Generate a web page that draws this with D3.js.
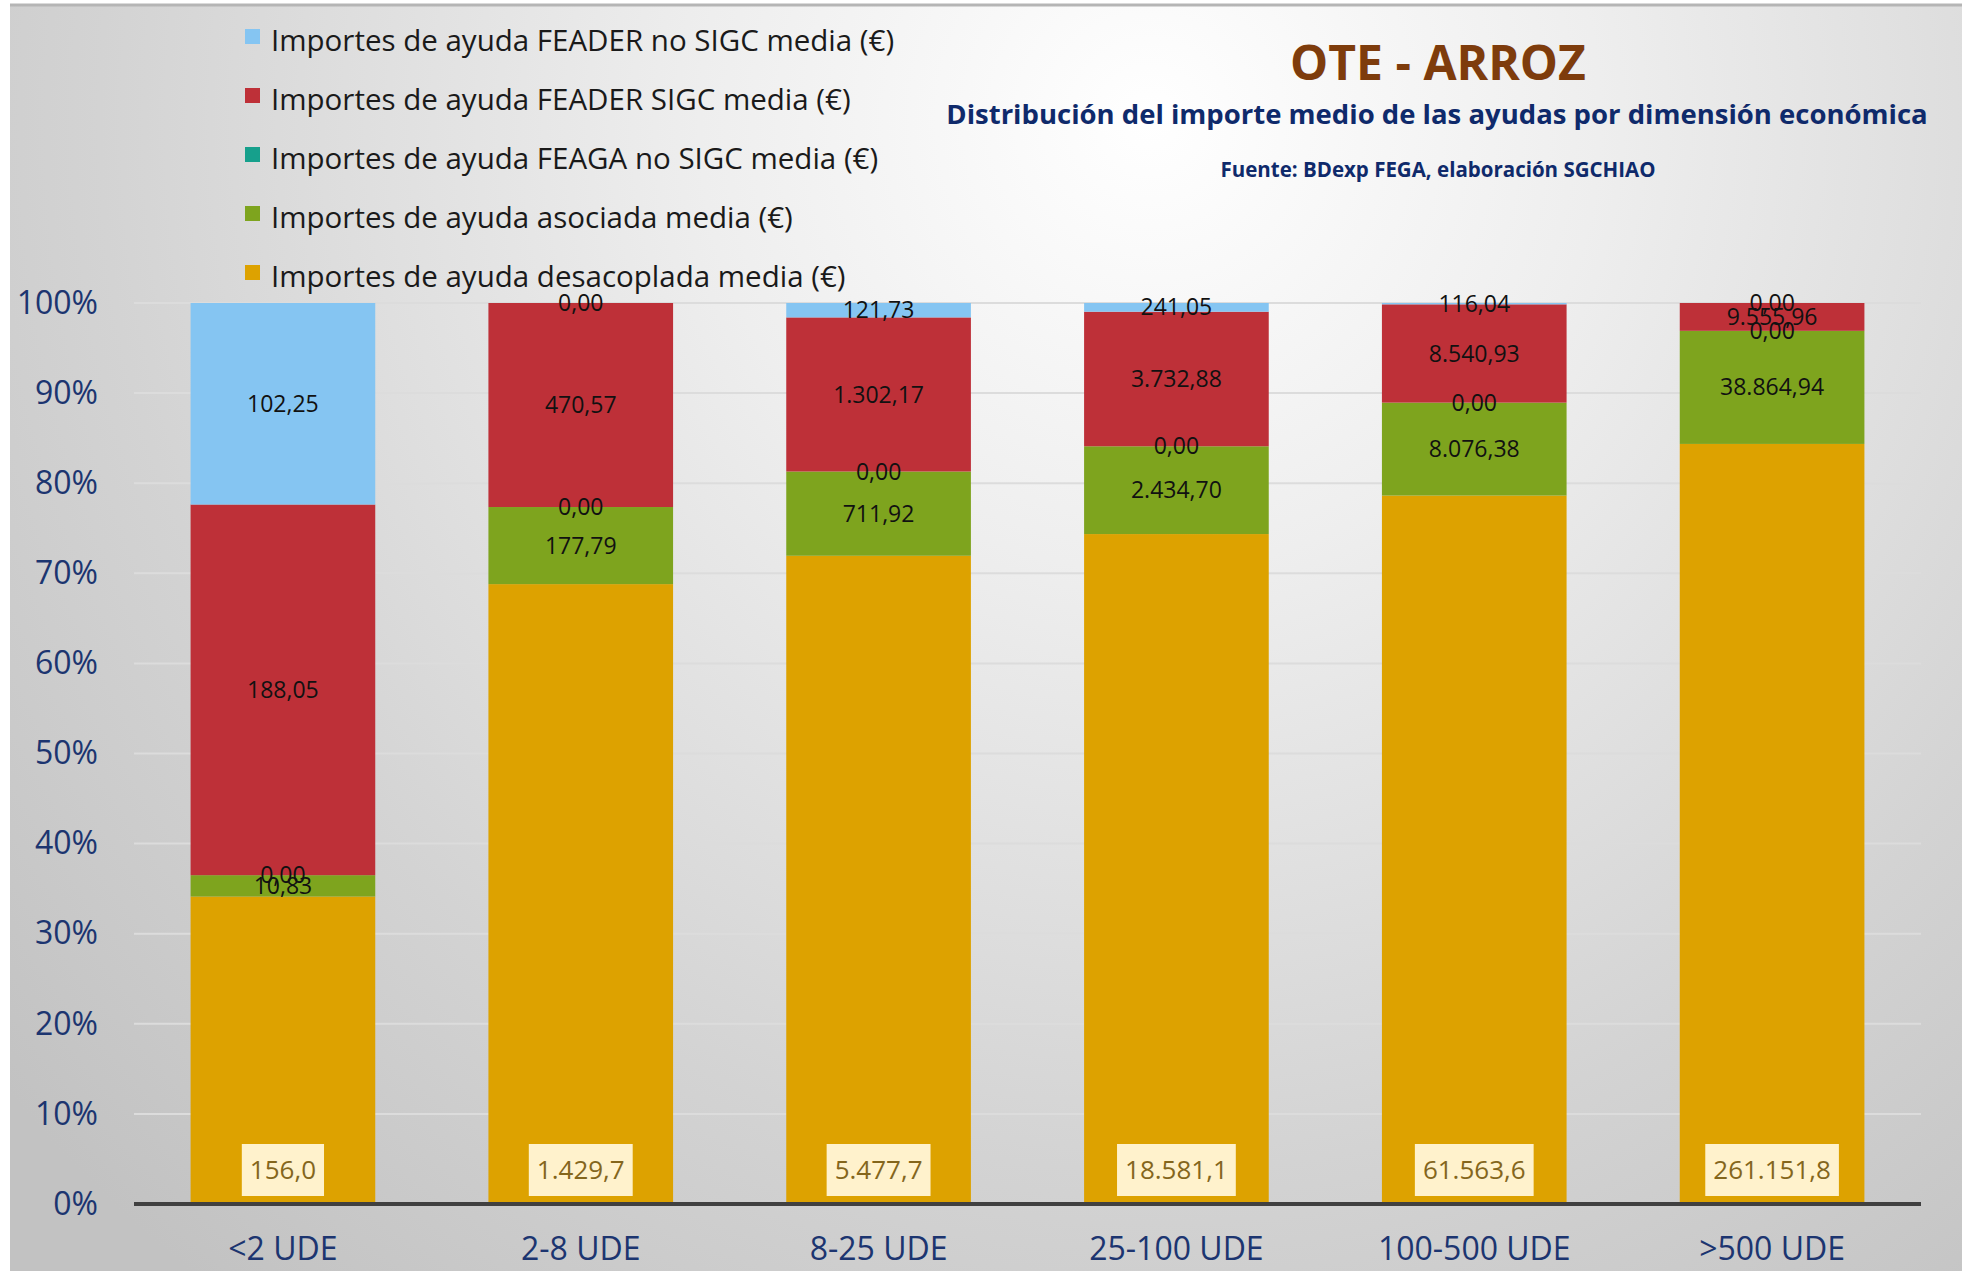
<!DOCTYPE html>
<html lang="es">
<head>
  <meta charset="UTF-8">
  <title>OTE - ARROZ</title>
  <script src="https://d3js.org/d3.v7.min.js"></script>
  <style>
    body { margin: 0; background: #fff; }
    svg text { font-family: "Open Sans", "Noto Sans", sans-serif; }
  </style>
</head>
<body>
<script>
// datos
var categories = ["<2 UDE", "2-8 UDE", "8-25 UDE", "25-100 UDE", "100-500 UDE", ">500 UDE"];
var desacoplada = [156.0, 1429.7, 5477.7, 18581.1, 61563.6, 261151.8];
var asociada = [10.83, 177.79, 711.92, 2434.70, 8076.38, 38864.94];
var feagaNoSigc = [0, 0, 0, 0, 0, 0];
var feaderSigc = [188.05, 470.57, 1302.17, 3732.88, 8540.93, 9555.96];
var feaderNoSigc = [102.25, 0, 121.73, 241.05, 116.04, 0];
var yTicks = [0, 0.1, 0.2, 0.3, 0.4, 0.5, 0.6, 0.7, 0.8, 0.9, 1];

var series = [
  {key: "desacoplada", name: "Importes de ayuda desacoplada media (€)", values: desacoplada, color: "#dda200"},
  {key: "asociada", name: "Importes de ayuda asociada media (€)", values: asociada, color: "#7ea41e"},
  {key: "feagaNoSigc", name: "Importes de ayuda FEAGA no SIGC media (€)", values: feagaNoSigc, color: "#16a08c"},
  {key: "feaderSigc", name: "Importes de ayuda FEADER SIGC media (€)", values: feaderSigc, color: "#be3038"},
  {key: "feaderNoSigc", name: "Importes de ayuda FEADER no SIGC media (€)", values: feaderNoSigc, color: "#85c5f2"}
];

var es = d3.formatLocale({decimal: ",", thousands: ".", grouping: [3], currency: ["", "€"]});
var fmt2 = es.format(",.2f"), fmt1 = es.format(",.1f");

var W = 1962, H = 1271;
var margin = {top: 303, right: 41, bottom: 67, left: 134};

var svg = d3.select("body").append("svg").attr("width", W).attr("height", H);

// fondo degradado
var defs = svg.append("defs");
var grad = defs.append("radialGradient").attr("id", "bg")
    .attr("gradientUnits", "userSpaceOnUse")
    .attr("cx", 1150).attr("cy", 120).attr("r", 1500);
grad.append("stop").attr("offset", 0).attr("stop-color", "#ffffff");
grad.append("stop").attr("offset", 0.3).attr("stop-color", "#eeeeee");
grad.append("stop").attr("offset", 0.7).attr("stop-color", "#d3d3d3");
grad.append("stop").attr("offset", 1).attr("stop-color", "#c2c2c2");
svg.append("rect").attr("x", 10).attr("y", 5).attr("width", W - 10).attr("height", H - 5)
    .attr("fill", "url(#bg)");
svg.append("line").attr("x1", 10).attr("x2", W).attr("y1", 5).attr("y2", 5)
    .attr("stroke", "#b5b5b5").attr("stroke-width", 3);

var x = d3.scaleBand().domain(categories)
    .range([margin.left, W - margin.right]).paddingInner(0.38).paddingOuter(0.19);
var y = d3.scaleLinear().domain([0, 1]).range([H - margin.bottom, margin.top]);

// rejilla
svg.append("g").selectAll("line").data(yTicks.slice(1)).join("line")
    .attr("x1", margin.left).attr("x2", W - margin.right)
    .attr("y1", d => y(d)).attr("y2", d => y(d))
    .attr("stroke", "#dcdcdc").attr("stroke-width", 2);

// porcentajes apilados
var rows = categories.map(function(c, i) {
  var r = {cat: c};
  series.forEach(s => r[s.key] = s.values[i]);
  return r;
});
var stack = d3.stack().keys(series.map(s => s.key)).offset(d3.stackOffsetExpand);
var stacked = stack(rows);

var bars = svg.append("g");
stacked.forEach(function(layer, si) {
  bars.append("g").attr("fill", series[si].color)
    .selectAll("rect").data(layer).join("rect")
    .attr("x", d => x(d.data.cat))
    .attr("y", d => y(d[1]))
    .attr("width", x.bandwidth())
    .attr("height", d => y(d[0]) - y(d[1]));
});

// eje x
svg.append("g").attr("transform", "translate(0," + y(0) + ")")
  .call(d3.axisBottom(x).tickSize(0).tickPadding(33))
  .call(g => g.select(".domain").attr("stroke", "#404040").attr("stroke-width", 4)
      .attr("d", "M" + margin.left + ",0H" + (W - margin.right)))
  .call(g => g.selectAll("text").attr("font-size", 32).attr("fill", "#1c3570")
      .attr("font-family", "'Open Sans', sans-serif"));

// eje y
svg.append("g").attr("transform", "translate(98,0)")
  .call(d3.axisLeft(y).tickValues(yTicks).tickFormat(d3.format(".0%")).tickSize(0).tickPadding(0))
  .call(g => g.select(".domain").remove())
  .call(g => g.selectAll("text").attr("font-size", 32).attr("fill", "#1c3570")
      .attr("font-family", "'Open Sans', sans-serif"));

// etiquetas de los segmentos
var labels = svg.append("g").attr("text-anchor", "middle").attr("font-size", 23).attr("fill", "#111");
stacked.forEach(function(layer, si) {
  if (si === 0) return;
  labels.append("g").selectAll("text").data(layer).join("text")
    .attr("x", d => x(d.data.cat) + x.bandwidth() / 2)
    .attr("y", d => y((d[0] + d[1]) / 2))
    .attr("dy", "0.35em")
    .text((d, i) => fmt2(series[si].values[i]));
});

// etiquetas desacoplada en caja
var boxes = svg.append("g").selectAll("g").data(stacked[0]).join("g")
  .attr("transform", d => "translate(" + (x(d.data.cat) + x.bandwidth() / 2) + "," + (y(0) - 34) + ")");
boxes.append("text")
  .attr("text-anchor", "middle").attr("dy", "0.35em")
  .attr("font-size", 26).attr("fill", "#84661c")
  .text((d, i) => fmt1(desacoplada[i]));
boxes.each(function() {
  var g = d3.select(this), b = g.select("text").node().getBBox();
  g.insert("rect", "text").attr("x", b.x - 8).attr("y", -26).attr("width", b.width + 16).attr("height", 52)
    .attr("fill", "#fff2cc");
});

// leyenda (orden inverso)
var legend = svg.append("g").attr("transform", "translate(245,0)");
series.slice().reverse().forEach(function(s, i) {
  var ly = 41 + i * 59;
  legend.append("rect").attr("x", 0).attr("y", ly - 12).attr("width", 15).attr("height", 15).attr("fill", s.color);
  legend.append("text").attr("x", 26).attr("y", ly).attr("dy", "0.35em")
    .attr("font-size", 29.5).attr("fill", "#1a1a1a").text(s.name);
});

// titulos
svg.append("text").attr("x", 1438).attr("y", 80).attr("text-anchor", "middle")
  .attr("font-size", 48).attr("font-weight", "bold").attr("fill", "#7e3c0c").text("OTE - ARROZ");
svg.append("text").attr("x", 1437).attr("y", 124).attr("text-anchor", "middle")
  .attr("font-size", 27.5).attr("font-weight", "bold").attr("fill", "#0f2a6b")
  .text("Distribución del importe medio de las ayudas por dimensión económica");
svg.append("text").attr("x", 1438).attr("y", 177).attr("text-anchor", "middle")
  .attr("font-size", 20.5).attr("font-weight", "bold").attr("fill", "#0f2a6b")
  .text("Fuente: BDexp FEGA, elaboración SGCHIAO");
</script>
</body>
</html>
